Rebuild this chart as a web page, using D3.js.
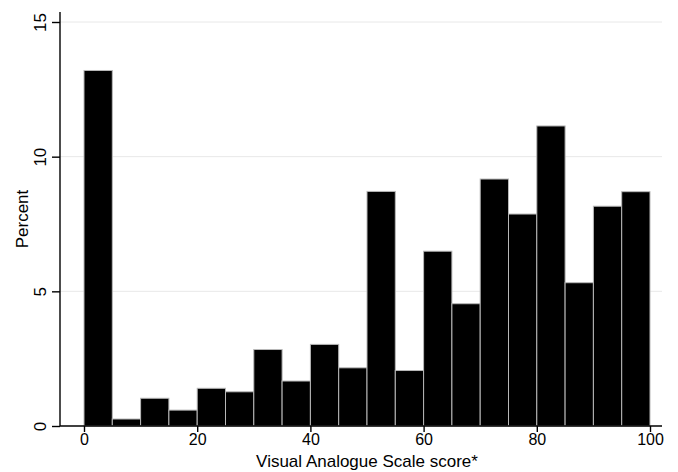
<!DOCTYPE html>
<html>
<head>
    <meta charset="utf-8">
    <title>Visual Analogue Scale histogram</title>
    <script src="https://d3js.org/d3.v7.min.js"></script>
    <style>
        body { margin: 0; background: #fff; }
        text { font-family: "Liberation Sans", Arial, sans-serif; fill: #000; }
    </style>
</head>
<body>
    <script type="text/javascript">
    // bins of width 5 on the VAS score, starting at 0
    const binStarts = [0, 5, 10, 15, 20, 25, 30, 35, 40, 45, 50, 55, 60, 65, 70, 75, 80, 85, 90, 95];
    const binWidth = 5;
    const percents = [13.2, 0.26, 1.03, 0.59, 1.4, 1.27, 2.84, 1.67, 3.03, 2.16,
                      8.71, 2.06, 6.49, 4.54, 9.17, 7.87, 11.14, 5.32, 8.16, 8.7];
    const xTicks = [0, 20, 40, 60, 80, 100];
    const yTicks = [0, 5, 10, 15];
    const yGrid = [5, 10, 15];

    const width = 678, height = 472;
    const plot = {left: 60, right: 662, top: 12, bottom: 426};

    const svg = d3.select("body")
        .append("svg")
        .attr("width", width)
        .attr("height", height);

    const x = d3.scaleLinear().domain([0, 100]).range([84, 650]);
    const y = d3.scaleLinear().domain([0, 15]).range([plot.bottom, 22]);

    // grid lines
    svg.append("g")
        .selectAll("line")
        .data(yGrid)
        .join("line")
        .attr("x1", plot.left)
        .attr("x2", plot.right)
        .attr("y1", d => y(d))
        .attr("y2", d => y(d))
        .attr("stroke", "#e8e8e8")
        .attr("stroke-width", 1);

    // bars
    svg.append("g")
        .selectAll("rect")
        .data(binStarts)
        .join("rect")
        .attr("x", d => x(d))
        .attr("width", d => x(d + binWidth) - x(d))
        .attr("y", (d, i) => y(percents[i]))
        .attr("height", (d, i) => y(0) - y(percents[i]))
        .attr("fill", "#000")
        .attr("stroke", "#b8b8b8")
        .attr("stroke-width", 1);

    // x axis
    const xAxis = d3.axisBottom(x)
        .tickValues(xTicks)
        .tickSize(6)
        .tickPadding(2)
        .tickFormat(d3.format("d"));

    const gx = svg.append("g")
        .attr("transform", `translate(0,${plot.bottom})`)
        .call(xAxis);
    gx.select(".domain").remove();
    gx.append("line")
        .attr("x1", plot.left).attr("x2", plot.right)
        .attr("stroke", "#000").attr("stroke-width", 1.4);
    gx.selectAll(".tick line").attr("stroke", "#000").attr("stroke-width", 1.4);
    gx.selectAll(".tick text")
        .style("font-size", "16px")
        .attr("fill", "#000");

    // y axis, labels turned like Stata does
    const yAxis = d3.axisLeft(y)
        .tickValues(yTicks)
        .tickSize(8)
        .tickFormat(d3.format("d"));

    const gy = svg.append("g")
        .attr("transform", `translate(${plot.left},0)`)
        .call(yAxis);
    gy.select(".domain").remove();
    gy.append("line")
        .attr("y1", plot.top).attr("y2", plot.bottom)
        .attr("stroke", "#000").attr("stroke-width", 1.4);
    gy.selectAll(".tick line").attr("stroke", "#000").attr("stroke-width", 1.4);
    gy.selectAll(".tick text")
        .attr("x", 0)
        .attr("dy", 0)
        .attr("text-anchor", "middle")
        .attr("transform", "translate(-14,0) rotate(-90)")
        .style("font-size", "17px")
        .attr("fill", "#000");

    // titles
    svg.append("text")
        .attr("x", (x(0) + x(100)) / 2)
        .attr("y", 467)
        .attr("text-anchor", "middle")
        .style("font-size", "17px")
        .text("Visual Analogue Scale score*");

    svg.append("text")
        .attr("transform", `translate(28,${(plot.top + plot.bottom) / 2}) rotate(-90)`)
        .attr("text-anchor", "middle")
        .style("font-size", "17px")
        .text("Percent");
    </script>
</body>
</html>
